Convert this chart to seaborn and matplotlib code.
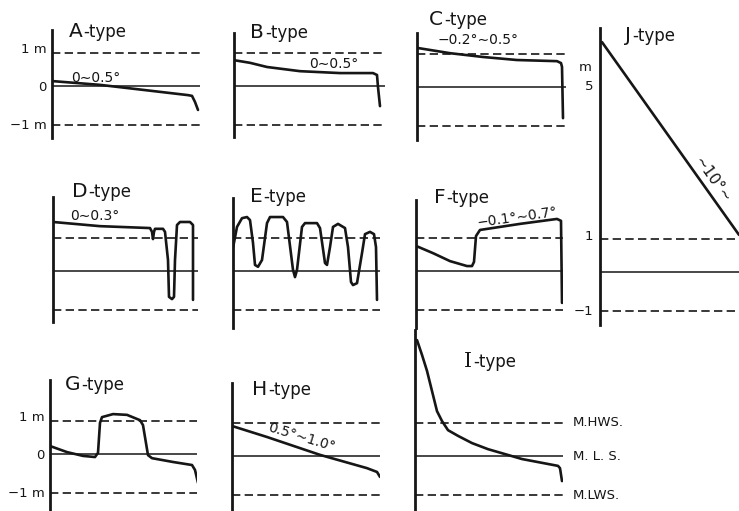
import matplotlib
matplotlib.use("Agg")
import matplotlib.pyplot as plt
import seaborn as sns

sns.set_style("white")
plt.rcParams["font.family"] = ["DejaVu Sans"]

INK = "#161616"
W, H = 739, 511

# Tide levels (m above mean sea level)
MHWS = 0.87
MLS = 0.0
MLWS = -1.03

# Platform profiles: distance from the cliff foot and height in metres
a_dist = [0, 48, 136, 140, 143, 146]
a_h = [0.13, 0.03, -0.24, -0.26, -0.42, -0.63]

b_dist = [0, 16, 33, 66, 106, 139, 143, 144, 146]
b_h = [0.68, 0.61, 0.50, 0.39, 0.34, 0.34, 0.29, -0.03, -0.53]

c_dist = [0, 33, 66, 100, 140, 144, 145, 146]
c_h = [1.03, 0.89, 0.79, 0.71, 0.68, 0.63, 0.53, -0.82]

d_dist = [0, 47, 97, 99, 100, 101, 102, 110, 112, 115, 116, 119, 121, 122,
          124, 127, 137, 140, 140]
d_h = [1.29, 1.18, 1.13, 1.03, 0.84, 1.03, 1.11, 1.11, 1.03, 0.29, -0.68,
       -0.74, -0.68, 0.29, 1.21, 1.29, 1.29, 1.21, -0.76]

e_dist = [0, 4, 9, 14, 17, 20, 22, 25, 29, 34, 37, 50, 54, 60, 62, 64, 69,
          72, 84, 87, 92, 94, 97, 100, 105, 112, 115, 118, 120, 124, 129,
          132, 137, 141, 143, 144]
e_h = [0.61, 1.16, 1.39, 1.42, 1.34, 0.74, 0.16, 0.11, 0.29, 1.26, 1.42,
       1.42, 1.29, 0.03, -0.16, 0.03, 1.16, 1.26, 1.26, 1.13, 0.21, 0.16,
       0.63, 1.16, 1.24, 1.13, 0.63, -0.29, -0.37, -0.32, 0.47, 0.97, 1.03,
       0.97, 0.63, -0.76]

f_dist = [0, 17, 34, 51, 56, 58, 60, 64, 104, 141, 145, 146]
f_h = [0.66, 0.47, 0.26, 0.13, 0.13, 0.24, 0.92, 1.08, 1.24, 1.37, 1.32, -0.84]

g_dist = [0, 17, 33, 45, 48, 50, 52, 63, 77, 90, 93, 98, 102, 123, 142, 145, 148]
g_h = [0.21, 0.05, -0.05, -0.08, 0.03, 0.82, 0.97, 1.05, 1.03, 0.89, 0.76,
       -0.03, -0.11, -0.21, -0.29, -0.42, -0.76]

h_dist = [0, 35, 88, 135, 145, 148]
h_h = [0.79, 0.50, 0.03, -0.32, -0.42, -0.55]

i_dist = [2, 7, 12, 17, 22, 27, 33, 43, 57, 73, 90, 107, 123, 143, 145, 147]
i_h = [3.05, 2.66, 2.24, 1.71, 1.18, 0.92, 0.68, 0.53, 0.34, 0.18, 0.05,
       -0.08, -0.16, -0.26, -0.32, -0.66]

j_dist = [2, 139]
j_h = [6.13, 0.99]

level_names = ["M.HWS.", "M. L. S.", "M.LWS."]

fig = plt.figure(figsize=(W / 100, H / 100), dpi=100)
fig.patch.set_facecolor("white")
renderer = fig.canvas.get_renderer()


def panel(left, top, bottom, right, zero, scale=38.0):
    """Axes whose left spine is the cliff line; y in metres, x in distance."""
    ax = fig.add_axes([left / W, 1 - bottom / H, (right - left) / W, (bottom - top) / H])
    ax.set_xlim(0, right - left)
    ax.set_ylim((zero - bottom) / scale, (zero - top) / scale)
    for side in ("top", "right", "bottom"):
        ax.spines[side].set_visible(False)
    ax.spines["left"].set_linewidth(2.0)
    ax.spines["left"].set_color(INK)
    ax.set_xticks([])
    ax.set_yticks([])
    ax.patch.set_alpha(0)
    ax.axhline(MHWS, color=INK, lw=1.2, ls=(0, (5, 2.6)))
    ax.axhline(MLS, color=INK, lw=1.1)
    ax.axhline(MLWS, color=INK, lw=1.2, ls=(0, (5, 2.6)))
    return ax


def profile(ax, dist, h):
    sns.lineplot(x=dist, y=h, ax=ax, color=INK, lw=1.9, sort=False,
                 estimator=None, legend=False)
    ax.lines[-1].set_solid_joinstyle("round")
    ax.set_xlabel("")
    ax.set_ylabel("")


def title(x_letter, baseline, letter, family="DejaVu Sans"):
    t = fig.text(x_letter / W, 1 - baseline / H, letter, fontsize=14.5,
                 va="baseline", ha="left", color=INK, family=family)
    x_end = t.get_window_extent(renderer).x1
    fig.text((x_end + 1) / W, 1 - baseline / H, "-type", fontsize=12,
             va="baseline", ha="left", color=INK)


def metre_ticks(ax):
    ax.set_yticks([1, 0, -1])
    ax.set_yticklabels(["1 m", "0", "\u22121 m"], fontsize=9.5, color=INK)
    ax.tick_params(axis="y", direction="in", length=8, width=1.4, pad=4, colors=INK,
                   labelcolor=INK)


def note(ax, x, y, s, rot=0, size=10):
    ax.text(x, y, s, fontsize=size, rotation=rot, ha="center", va="center",
            color=INK, clip_on=False, rotation_mode="anchor")


# Top row
ax_a = panel(52, 30, 138, 200, 86)
profile(ax_a, a_dist, a_h)
metre_ticks(ax_a)
note(ax_a, 44, 0.21, "0\u223c0.5\u00b0")
title(69, 37, "A")

ax_b = panel(234, 33, 137, 385, 86)
profile(ax_b, b_dist, b_h)
note(ax_b, 100, 0.58, "0\u223c0.5\u00b0")
title(250, 38, "B")

ax_c = panel(417, 33, 140, 566, 87)
profile(ax_c, c_dist, c_h)
note(ax_c, 61, 1.24, "\u22120.2\u00b0\u223c0.5\u00b0")
title(429, 25, "C")

# Middle row
ax_d = panel(53, 197, 322, 198, 271)
profile(ax_d, d_dist, d_h)
note(ax_d, 42, 1.45, "0\u223c0.3\u00b0")
title(72, 197, "D")

ax_e = panel(233, 198, 328, 380, 271)
profile(ax_e, e_dist, e_h)
title(250, 202, "E")

ax_f = panel(416, 200, 328, 563, 271)
profile(ax_f, f_dist, f_h)
note(ax_f, 101, 1.42, "\u22120.1\u00b0\u223c0.7\u00b0", rot=8)
title(434, 203, "F")

# Bottom row
ax_g = panel(50, 380, 511, 197, 454)
profile(ax_g, g_dist, g_h)
metre_ticks(ax_g)
title(65, 390, "G")

ax_h = panel(232, 383, 511, 380, 456)
profile(ax_h, h_dist, h_h)
note(ax_h, 70, 0.5, "0.5\u00b0\u223c1.0\u00b0", rot=-17)
title(252, 395, "H")

ax_i = panel(415, 330, 511, 563, 456)
profile(ax_i, i_dist, i_h)
for lvl, name in zip([MHWS, MLS, MLWS], level_names):
    ax_i.text(158, lvl, name, fontsize=9.5, ha="left", va="center", color=INK,
              clip_on=False)
title(464, 367, "I", family="DejaVu Serif")

# J: high sloping platform on its own metre scale
ax_j = panel(600, 28, 325, 739, 272, scale=37.5)
profile(ax_j, j_dist, j_h)
ax_j.set_yticks([5, 4, 3, 2, 1, 0, -1])
ax_j.set_yticklabels(["5", "", "", "", "1", "", "\u22121"], fontsize=9.5, color=INK)
ax_j.tick_params(axis="y", direction="in", length=5, width=1.4, pad=5, colors=INK,
                 labelcolor=INK)
ax_j.text(-8, 5.45, "m", fontsize=9.5, ha="right", va="center", color=INK, clip_on=False)
note(ax_j, 112, 2.45, "\u223c10\u00b0\u223c", rot=-54.6, size=11)
title(625, 41, "J")

fig.savefig("out.png", dpi=100, facecolor="white")
